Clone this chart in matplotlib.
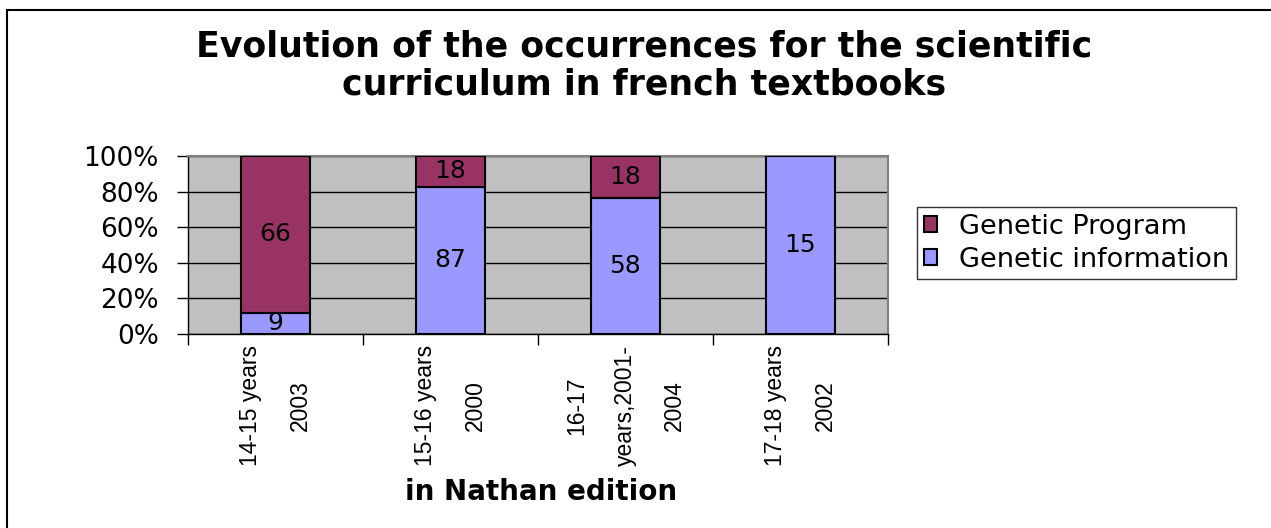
import matplotlib.pyplot as plt
import numpy as np
from matplotlib.lines import Line2D

categories = ["14-15 years\n2003", "15-16 years\n2000", "16-17\nyears,2001-\n2004", "17-18 years\n2002"]
genetic_info = [9, 87, 58, 15]
genetic_prog = [66, 18, 18, 0]
yticks = [0, 20, 40, 60, 80, 100]

plt.rcParams['font.family'] = ['DejaVu Sans']

info = np.array(genetic_info, dtype=float)
prog = np.array(genetic_prog, dtype=float)
tot = info + prog
info_pct = info / tot * 100
prog_pct = prog / tot * 100

fig = plt.figure(figsize=(12.71, 5.28), dpi=100)
# outer frame: only top and left edges are visible in the picture
fx = 6.5 / 1271
fy = 1 - 9.5 / 528
fig.add_artist(Line2D([fx, 1.0], [fy, fy], transform=fig.transFigure, color='black', lw=1.5))
fig.add_artist(Line2D([fx, fx], [0.0, fy], transform=fig.transFigure, color='black', lw=1.5))

ax = fig.add_axes([0.1479, 0.3674, 0.5507, 0.3371])
ax.set_facecolor('#C0C0C0')

x = np.arange(len(categories)) + 0.5
w = 0.39
b1 = ax.bar(x, info_pct, w, color='#9999FF', edgecolor='black', linewidth=1.5,
            label='Genetic information', zorder=3)
b2 = ax.bar(x, prog_pct, w, bottom=info_pct, color='#993366', edgecolor='black',
            linewidth=1.5, label='Genetic Program', zorder=3)

for i in range(len(categories)):
    if info[i] > 0:
        ax.text(x[i], info_pct[i] / 2, str(genetic_info[i]), ha='center', va='center',
                fontsize=18, zorder=4)
    if prog[i] > 0:
        ax.text(x[i], info_pct[i] + prog_pct[i] / 2, str(genetic_prog[i]), ha='center',
                va='center', fontsize=18, zorder=4)

ax.set_xlim(0, len(categories))
ax.set_ylim(0, 100)
ax.set_yticks(yticks)
ax.set_yticklabels([f"{v}%" for v in yticks], fontsize=19)
ax.yaxis.grid(True, color='black', linewidth=1)
ax.set_axisbelow(True)
ax.tick_params(axis='y', direction='out', length=8, width=1, pad=13)

ax.set_xticks(np.arange(len(categories) + 1))
ax.set_xticklabels([])
ax.tick_params(axis='x', which='major', direction='out', length=8, width=1)
ax.set_xticks(x, minor=True)
ax.set_xticklabels(categories, minor=True, rotation=90, fontsize=16.5,
                   family=['Liberation Sans', 'DejaVu Sans'],
                   linespacing=2.45, ha='center', va='top', multialignment='center')
ax.tick_params(axis='x', which='minor', length=0, pad=8)

for s in ['top', 'right']:
    ax.spines[s].set_color('#808080')
    ax.spines[s].set_linewidth(1.5)
for s in ['left', 'bottom']:
    ax.spines[s].set_color('black')
    ax.spines[s].set_linewidth(1)

handles = [b2, b1]
leg = fig.legend(handles, ['Genetic Program', 'Genetic information'],
                 loc='upper left', bbox_to_anchor=(0.7215, 0.608),
                 fontsize=19.5, frameon=True, fancybox=False, handlelength=0.5,
                 handleheight=0.5, handletextpad=0.8, borderpad=0.25,
                 labelspacing=0.25, borderaxespad=0)
leg.get_frame().set_edgecolor('black')
leg.get_frame().set_linewidth(1)

fig.text(0.507, 0.876, "Evolution of the occurrences for the scientific\ncurriculum in french textbooks",
         ha='center', va='center', fontsize=25, fontweight='bold', linespacing=1.15)
fig.text(0.426, 0.068, "in Nathan edition", ha='center', va='center',
         fontsize=20, fontweight='bold')

fig.savefig('out.png', dpi=100)
